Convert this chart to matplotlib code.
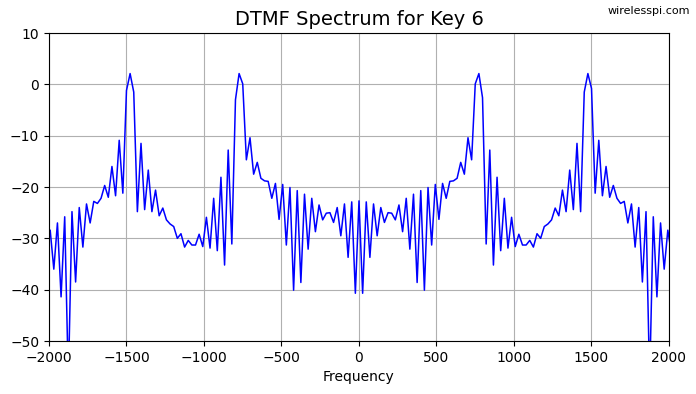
import numpy as np
import matplotlib.pyplot as plt

# bin spacing of the FFT (Hz), bins -86..86
df = 23.44
bins = np.arange(-86, 87)

# magnitude in dB (left to right)
mag_neg = [-33, -28.4, -36.0, -27.0, -41.4, -25.8, -58, -24.8, -38.5, -24.0,
           -31.7, -23.3, -27.0, -22.8, -23.2, -22.2, -19.7, -22.0, -16.0, -21.7,
           -10.9, -21.2, -1.2, 2.1, -1.5, -24.8, -11.5, -24.4, -16.7, -24.8,
           -20.6, -25.6, -24.1, -26.4, -27.2, -27.7, -30.0, -29.1, -31.7, -30.4,
           -31.3, -31.3, -29.2, -31.6, -25.9, -31.9, -22.2, -32.4, -18.1, -35.2,
           -12.8, -31.1, -3.0, 2.1, 0.1, -14.7, -10.4, -17.5, -15.2, -18.3,
           -18.8, -18.9, -22.2, -19.3, -26.3, -19.5, -31.3, -20.1, -40.1, -20.7,
           -38.6, -21.4, -32.1, -22.2, -28.7, -23.5, -26.4, -25.1, -25.0, -26.9,
           -24.0, -29.5, -23.3, -33.7, -22.9, -40.7]
mag_zero = [-22.7]
mag_pos = [-40.7, -22.9, -33.7, -23.3, -29.5, -24.0, -26.9, -25.0, -25.1, -26.4,
           -23.5, -28.7, -22.2, -32.1, -21.4, -38.6, -20.7, -40.1, -20.1, -31.3,
           -19.5, -26.3, -19.3, -22.2, -18.9, -18.8, -18.3, -15.2, -17.5, -10.4,
           -14.7, 0.1, 2.1, -2.6, -31.1, -12.8, -35.2, -18.1, -32.4, -22.2,
           -31.9, -25.9, -31.6, -29.2, -31.3, -31.3, -30.4, -31.7, -29.1, -30.0,
           -27.7, -27.2, -26.4, -24.1, -25.6, -20.6, -24.8, -16.7, -24.4, -11.5,
           -24.8, -1.5, 2.1, -0.8, -21.2, -10.9, -21.7, -16.0, -22.0, -19.7,
           -22.2, -23.2, -22.8, -27.0, -23.3, -31.7, -24.0, -38.5, -24.8, -58,
           -25.8, -41.4, -27.0, -36.0, -28.4, -33]

freq = bins * df
mag = np.array(mag_neg + mag_zero + mag_pos)

fig = plt.figure(figsize=(6.96, 3.94), dpi=100)
ax = fig.add_axes([0.0704, 0.1345, 0.8908, 0.7817])
ax.plot(freq, mag, color="blue", lw=1.1)
ax.set_xlim(-2000, 2000)
ax.set_ylim(-50, 10)
ax.set_xticks(np.arange(-2000, 2001, 500))
ax.set_yticks(np.arange(-50, 11, 10))
ax.grid(True)
ax.set_xlabel("Frequency")
ax.set_title("DTMF Spectrum for Key 6", fontsize=14)
fig.text(0.992, 0.985, "wirelesspi.com", ha="right", va="top", fontsize=8)

fig.savefig("out.png", dpi=100)
